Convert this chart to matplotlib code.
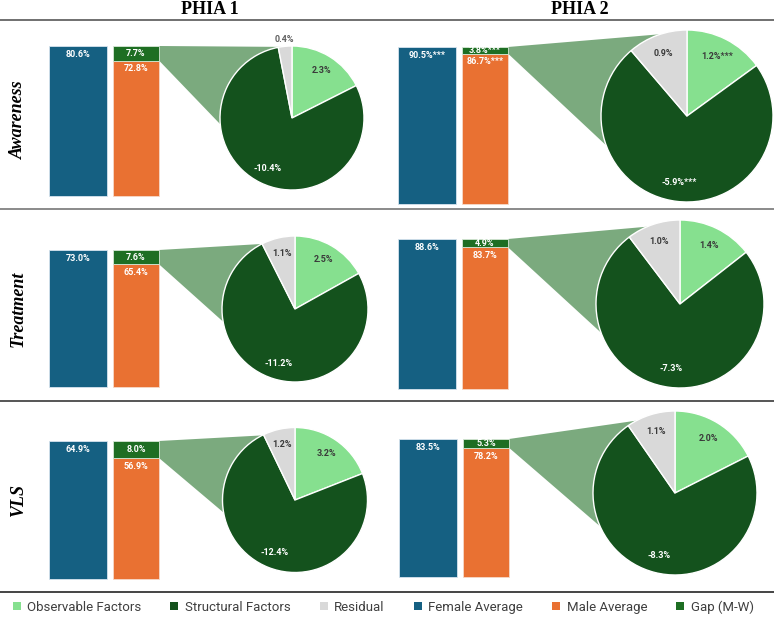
import numpy as np
import matplotlib.pyplot as plt
from matplotlib.patches import Polygon, Patch

rows = ["Awareness", "Treatment", "VLS"]
surveys = ["PHIA 1", "PHIA 2"]

# rows x surveys
female = [[80.6, 90.5], [73.0, 88.6], [64.9, 83.5]]
male = [[72.8, 86.7], [65.4, 83.7], [56.9, 78.2]]
gap = [[7.7, 3.8], [7.6, 4.9], [8.0, 5.3]]
observable = [[2.3, 1.2], [2.5, 1.4], [3.2, 2.0]]
structural = [[-10.4, -5.9], [-11.2, -7.3], [-12.4, -8.3]]
residual = [[0.4, 0.9], [1.1, 1.0], [1.2, 1.1]]
stars = [["", "***"], ["", ""], ["", ""]]

legend_labels = ["Observable Factors", "Structural Factors", "Residual",
                 "Female Average", "Male Average", "Gap (M-W)"]

C_OBS, C_STR, C_RES = "#86E08F", "#14521D", "#D9D9D9"
C_FEM, C_MAL, C_GAP = "#156082", "#E97132", "#1E6E23"
C_CONN = "#7BAA7E"

W, H = 774, 617
# layout in pixels (y down): bar block (left, top, base), pie (cx, cy, r), connector angles
bar_box = [[(49, 46, 196), (398, 47, 204)],
           [(49, 250, 387), (398, 239, 389)],
           [(49, 441, 579), (399, 439, 577)]]
pie_box = [[(292, 118, 72), (687, 116, 86)],
           [(295, 309, 73), (680, 304, 84)],
           [(295, 500, 72.5), (675, 493, 82)]]
conn_ang = [[(99, 185), (108, 200)],
            [(117, 190), (113, 200)],
            [(117, 190), (118, 204)]]
F_W, M_X, M_W, BLOCK_W = 58, 64, 46, 110

fig = plt.figure(figsize=(W / 100, H / 100), dpi=100)
bg = fig.add_axes([0, 0, 1, 1])
bg.set_xlim(0, W)
bg.set_ylim(H, 0)
bg.axis("off")

for y, c in zip([20, 209, 401, 592], ["#707070", "#8a8a8a", "#555555", "#444444"]):
    bg.axhline(y, color=c, lw=1.4)

serif = "Liberation Serif"
for name, x in zip(surveys, [210, 580]):
    fig.text(x / W, 1 - 10 / H, name, ha="center", va="center",
             family=serif, weight="bold", size=13)
for name, y in zip(rows, [120, 309, 500]):
    fig.text(18 / W, 1 - y / H, name, ha="center", va="center", rotation=90,
             family=serif, weight="bold", style="italic", size=13)

lab = dict(ha="center", va="center", fontsize=6.5, fontweight="bold", family="Roboto")

for i in range(len(rows)):
    for j in range(len(surveys)):
        f, m, g = female[i][j], male[i][j], gap[i][j]
        st = stars[i][j]
        left, top, base = bar_box[i][j]
        bax = fig.add_axes([left / W, 1 - base / H, BLOCK_W / W, (base - top) / H])
        bax.set_xlim(0, BLOCK_W)
        bax.set_ylim(0, f)
        bax.axis("off")
        bax.bar(0, f, width=F_W, align="edge", color=C_FEM, edgecolor="#d6e3ee", lw=0.6, clip_on=False)
        bax.bar(M_X, m, width=M_W, align="edge", color=C_MAL, edgecolor="#f6d9c8", lw=0.6, clip_on=False)
        bax.bar(M_X, g, bottom=m, width=M_W, align="edge", color=C_GAP, edgecolor="#d6e8d6", lw=0.6, clip_on=False)
        bax.annotate(f"{f:.1f}%{st}", xy=(F_W / 2, f), xytext=(0, -6.3), textcoords="offset points",
                     color="white", **lab)
        bax.annotate(f"{m:.1f}%{st}", xy=(M_X + M_W / 2, m), xytext=(0, -6), textcoords="offset points",
                     color="white", **lab)
        bax.text(M_X + M_W / 2, m + g / 2, f"{g:.1f}%{st}", color="white", **lab)

        cx, cy, r = pie_box[i][j]
        pax = fig.add_axes([(cx - r) / W, 1 - (cy + r) / H, 2 * r / W, 2 * r / H])
        vals = [observable[i][j], abs(structural[i][j]), residual[i][j]]
        texts = [f"{observable[i][j]:.1f}%{st}", f"{structural[i][j]:.1f}%{st}", f"{residual[i][j]:.1f}%"]
        wedges, _ = pax.pie(vals, colors=[C_OBS, C_STR, C_RES], startangle=90, counterclock=False,
                            wedgeprops=dict(edgecolor="white", linewidth=1))
        pax.set_xlim(-1, 1)
        pax.set_ylim(-1, 1)
        for w, t, tc in zip(wedges, texts, ["#3a3a3a", "white", "#3a3a3a"]):
            a = np.deg2rad((w.theta1 + w.theta2) / 2)
            frac = (w.theta2 - w.theta1) / 360
            d = 1.1 if frac < 0.05 else 0.78
            pax.text(d * np.cos(a), d * np.sin(a), t, color=tc if d < 1 else "#606060", **lab)

        # connector from the gap segment to the pie
        a1, a2 = np.deg2rad(conn_ang[i][j])
        pts_disp = np.vstack([
            bax.transData.transform([(BLOCK_W, f)]),
            pax.transData.transform([(np.cos(a1), np.sin(a1)), (0, 0), (np.cos(a2), np.sin(a2))]),
            bax.transData.transform([(BLOCK_W, m)]),
        ])
        pts = bg.transData.inverted().transform(pts_disp)
        bg.add_patch(Polygon(pts, closed=True, facecolor=C_CONN, edgecolor="none"))

handles = [Patch(facecolor=c) for c in [C_OBS, C_STR, C_RES, C_FEM, C_MAL, C_GAP]]
fig.legend(handles, legend_labels, loc="center", bbox_to_anchor=(0.495, 1 - 607 / H), ncol=6,
           frameon=False, handlelength=0.6, handleheight=0.6, handletextpad=0.5,
           columnspacing=2.2, prop=dict(family="Roboto", size=9.5), labelcolor="#404040")

fig.savefig("out.png", dpi=100)
